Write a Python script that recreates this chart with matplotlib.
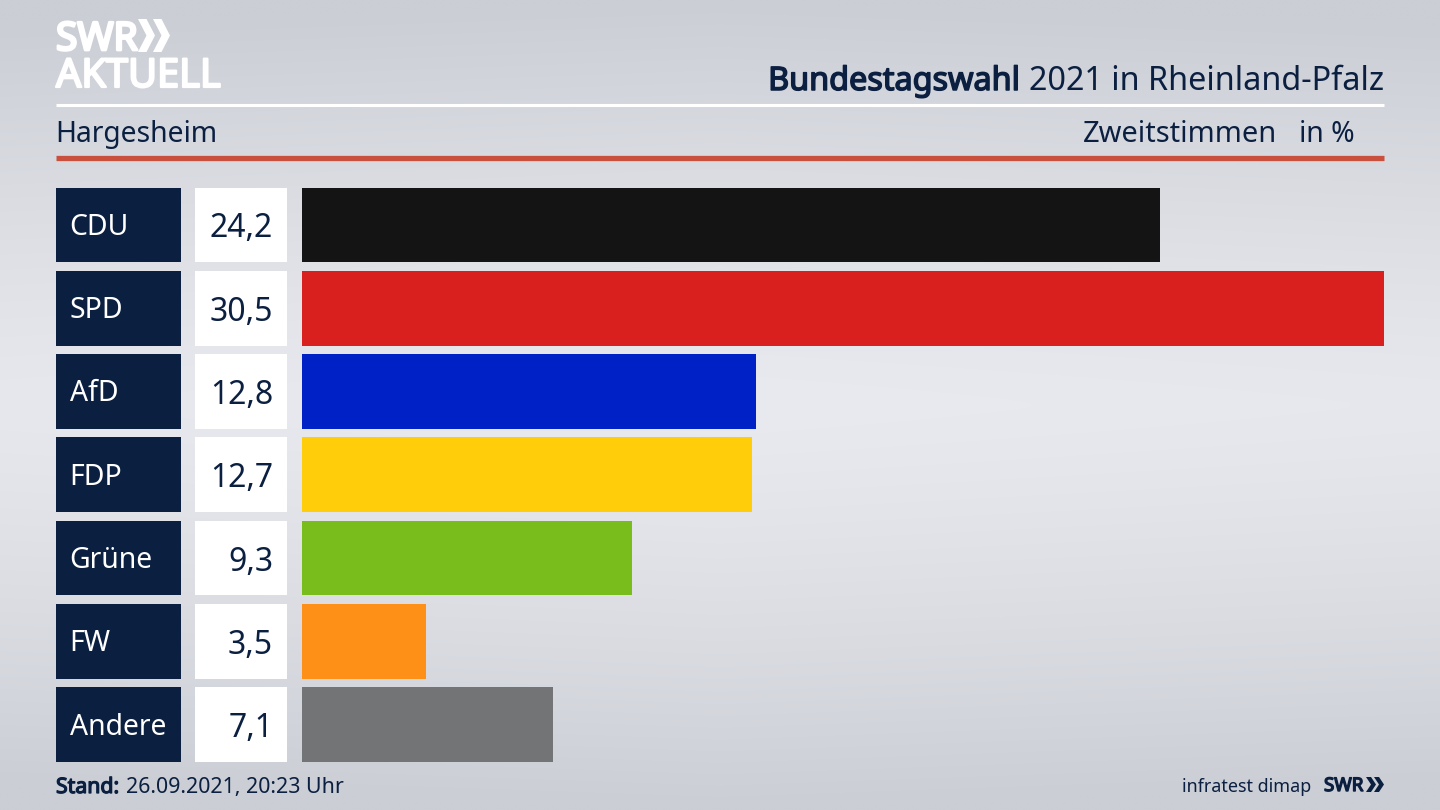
import numpy as np
import matplotlib
matplotlib.use('Agg')
import matplotlib.pyplot as plt
import matplotlib.patheffects as pe
from matplotlib.patches import Polygon

# Data
parties = ['CDU', 'SPD', 'AfD', 'FDP', 'Grüne', 'FW', 'Andere']
values = [24.2, 30.5, 12.8, 12.7, 9.3, 3.5, 7.1]
value_labels = ['24,2', '30,5', '12,8', '12,7', '9,3', '3,5', '7,1']
bar_colors = ['#141414', '#d9201f', '#0021c6', '#ffcd09', '#78bd1b', '#ff9017', '#737476']

NAVY = '#0b1f40'
FONT = 'Noto Sans'
W, H = 1440, 810

plt.rcParams['font.family'] = FONT

fig = plt.figure(figsize=(W / 100, H / 100), dpi=100)


def px_axes(x0, x1, y0, y1):
    # axes from pixel box, y measured from the top
    return fig.add_axes([x0 / W, 1 - y1 / H, (x1 - x0) / W, (y1 - y0) / H])


def heavy(stroke, color):
    # the installed font only renders regular weight, so thicken with a stroke
    return [pe.withStroke(linewidth=stroke, foreground=color)]


# Background gradient, lightest in the middle
bg = px_axes(0, W, 0, H)
yy, xx = np.mgrid[0:1:200j, 0:1:200j]
shade = np.clip(np.abs(yy - 0.5) * 2, 0, 1) ** 1.3 + 0.08 * np.abs(xx - 0.5) * 2
shade = np.clip(shade, 0, 1)
light = np.array([233, 234, 239]) / 255
dark = np.array([203, 206, 213]) / 255
img = light + (dark - light) * shade[..., None]
bg.imshow(img, extent=[0, W, H, 0], aspect='auto', interpolation='bilinear')
bg.set_xlim(0, W)
bg.set_ylim(H, 0)
bg.axis('off')

# Header rules
bg.plot([56, 1384], [105, 105], color='white', lw=2.2, solid_capstyle='butt')
bg.plot([56, 1384], [157.5, 157.5], color='#c9503d', lw=3.8, solid_capstyle='butt')

# Title, bold part placed next to the regular part
title = bg.text(1384, 90, '2021 in Rheinland-Pfalz', fontsize=23.3, color=NAVY, ha='right', va='baseline')
fig.canvas.draw()
tb = title.get_window_extent()
bg.text(tb.x0 - 9, 90, 'Bundestagswahl', fontsize=23.3, color=NAVY, ha='right', va='baseline',
        path_effects=heavy(1.1, NAVY))

bg.text(55, 142, 'Hargesheim', fontsize=20.4, color=NAVY, va='baseline')
bg.text(1083, 142, 'Zweitstimmen', fontsize=20.9, color=NAVY, va='baseline')
bg.text(1299, 142, 'in %', fontsize=20.4, color=NAVY, va='baseline')

# Footer
bg.text(56, 793, 'Stand:', fontsize=15.3, color=NAVY, va='baseline', path_effects=heavy(0.9, NAVY))
bg.text(126, 793, '26.09.2021, 20:23 Uhr', fontsize=15.4, color=NAVY, va='baseline')
bg.text(1311, 792, 'infratest dimap', fontsize=12.9, color=NAVY, ha='right', va='baseline')
bg.text(1324, 791, 'SWR', fontsize=13.5, color=NAVY, va='baseline', path_effects=heavy(1.0, NAVY))


def chevrons(x, y0, y1, w, gap, color):
    for k in range(2):
        x0 = x + k * gap
        mid = (y0 + y1) / 2
        bg.add_patch(Polygon([(x0, y0), (x0 + w * 0.5, y0), (x0 + w, mid),
                              (x0 + w * 0.5, y1), (x0, y1), (x0 + w * 0.5, mid)],
                             closed=True, color=color, lw=0))


chevrons(1366, 777, 792, 10, 8, NAVY)

# SWR AKTUELL logo
bg.text(56, 50, 'SWR', fontsize=28, color='white', va='baseline', path_effects=heavy(2.0, 'white'))
chevrons(138, 19, 52, 17, 15, 'white')
bg.text(56, 87, 'AKTUELL', fontsize=28.6, color='white', va='baseline', path_effects=heavy(1.6, 'white'))

# Panels and bars share the same category positions
ypos = np.arange(len(parties))
BAR_H = 0.9
YLIM = (len(parties) - 0.55, -0.45)

ax_name = px_axes(56, 181, 187.5, 762)
ax_name.barh(ypos, [1] * len(parties), height=BAR_H, color=NAVY)
ax_name.set_xlim(0, 1)
ax_name.set_ylim(*YLIM)
ax_name.axis('off')
for y, p in zip(ypos, parties):
    ax_name.text(13.5 / 125, y - 0.012, p, fontsize=20.4, color='white', va='center_baseline', ha='left')

ax_val = px_axes(195, 287, 187.5, 762)
ax_val.barh(ypos, [1] * len(parties), height=BAR_H, color='white')
ax_val.set_xlim(0, 1)
ax_val.set_ylim(*YLIM)
ax_val.axis('off')
for y, v in zip(ypos, value_labels):
    ax_val.text(78 / 92, y, v, fontsize=23, color=NAVY, va='center_baseline', ha='right')

ax = px_axes(301.5, 1384, 187.5, 762)
ax.barh(ypos, values, height=BAR_H, color=bar_colors)
ax.set_xlim(0, max(values))
ax.set_ylim(*YLIM)
ax.axis('off')

fig.savefig('out.png', dpi=100)
